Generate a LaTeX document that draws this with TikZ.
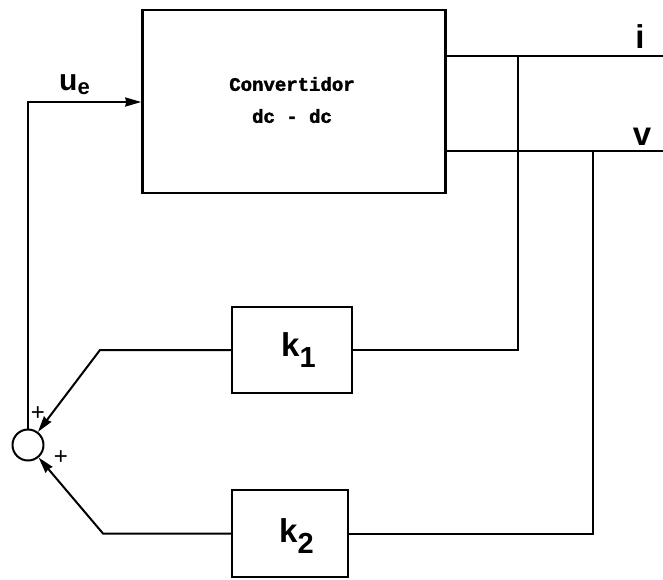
\documentclass[tikz,border=0pt]{standalone}
\usepackage{fontspec}
\setmainfont{Liberation Sans}
\newfontfamily\convfont{Liberation Mono}[BoldFeatures={FakeBold=2}]
\usetikzlibrary{arrows.meta}
\tikzset{
  wire/.style={line width=2pt, line join=miter},
  blk/.style={draw, line width=2.5pt, inner sep=0pt, minimum width=#1, text=black},
  tip/.style={-{Stealth[length=16pt,width=9pt,inset=1pt]}},
  lbl/.style={inner sep=0pt, font=\bfseries\fontsize{33}{36}\selectfont},
  plus/.style={inner sep=0pt, font=\fontsize{24}{24}\selectfont}
}
\begin{document}
\begin{tikzpicture}[x=1pt,y=-1pt]
\useasboundingbox (0,0) rectangle (663,579);
% blocks
\node[blk=303pt, minimum height=183pt] (conv) at (294,101.5) {};
\node[inner sep=0pt, align=center, font=\convfont\bfseries\fontsize{19}{32}\selectfont] (convtxt) at (292,100) {Convertidor\\[0pt]dc - dc};
\node[blk=120pt, minimum height=86pt] (k1) at (292,350) {};
\node[lbl, anchor=base west] (k1t) at (281,356) {k\raisebox{-11pt}{\fontsize{29}{30}\selectfont 1}};
\node[blk=116pt, minimum height=87pt] (k2) at (290,533.5) {};
\node[lbl, anchor=base west] (k2t) at (279,542) {k\raisebox{-11pt}{\fontsize{29}{30}\selectfont 2}};
\node[draw, circle, line width=2pt, minimum size=31pt, inner sep=0pt] (sum) at (28,445) {};
% labels
\node[lbl, font=\bfseries\fontsize{30}{32}\selectfont, anchor=base west] (ue) at (59,90) {u\raisebox{-4pt}{\fontsize{22}{22}\selectfont e}};
\node[lbl, anchor=base] (il) at (640,48) {i};
\node[lbl, anchor=base] (vl) at (642,145) {v};
\node[plus] (p1) at (38,414) {+};
\node[plus] (p2) at (61,458) {+};
% junction coordinates
\coordinate (iend) at (663,56);
\coordinate (vend) at (663,151);
\coordinate (ji) at (518,56);
\coordinate (jv) at (593,151);
\coordinate (ki) at (518,350);
\coordinate (kv) at (593,533.5);
\coordinate (b1) at (100,350);
\coordinate (b2) at (103,533.5);
\coordinate (c1) at (28,102);
% wires
\draw[wire] (conv.east |- iend) -- (iend);
\draw[wire] (conv.east |- vend) -- (vend);
\draw[wire] (ji) -- (ki) -- (k1.east);
\draw[wire] (jv) -- (kv) -- (k2.east);
\draw[wire, tip] (k1.west) -- (b1) -- (sum);
\draw[wire, tip] (k2.west) -- (b2) -- (sum);
\draw[wire, tip] (sum.north) -- (c1) -- (conv.west |- c1);
\end{tikzpicture}
\end{document}
